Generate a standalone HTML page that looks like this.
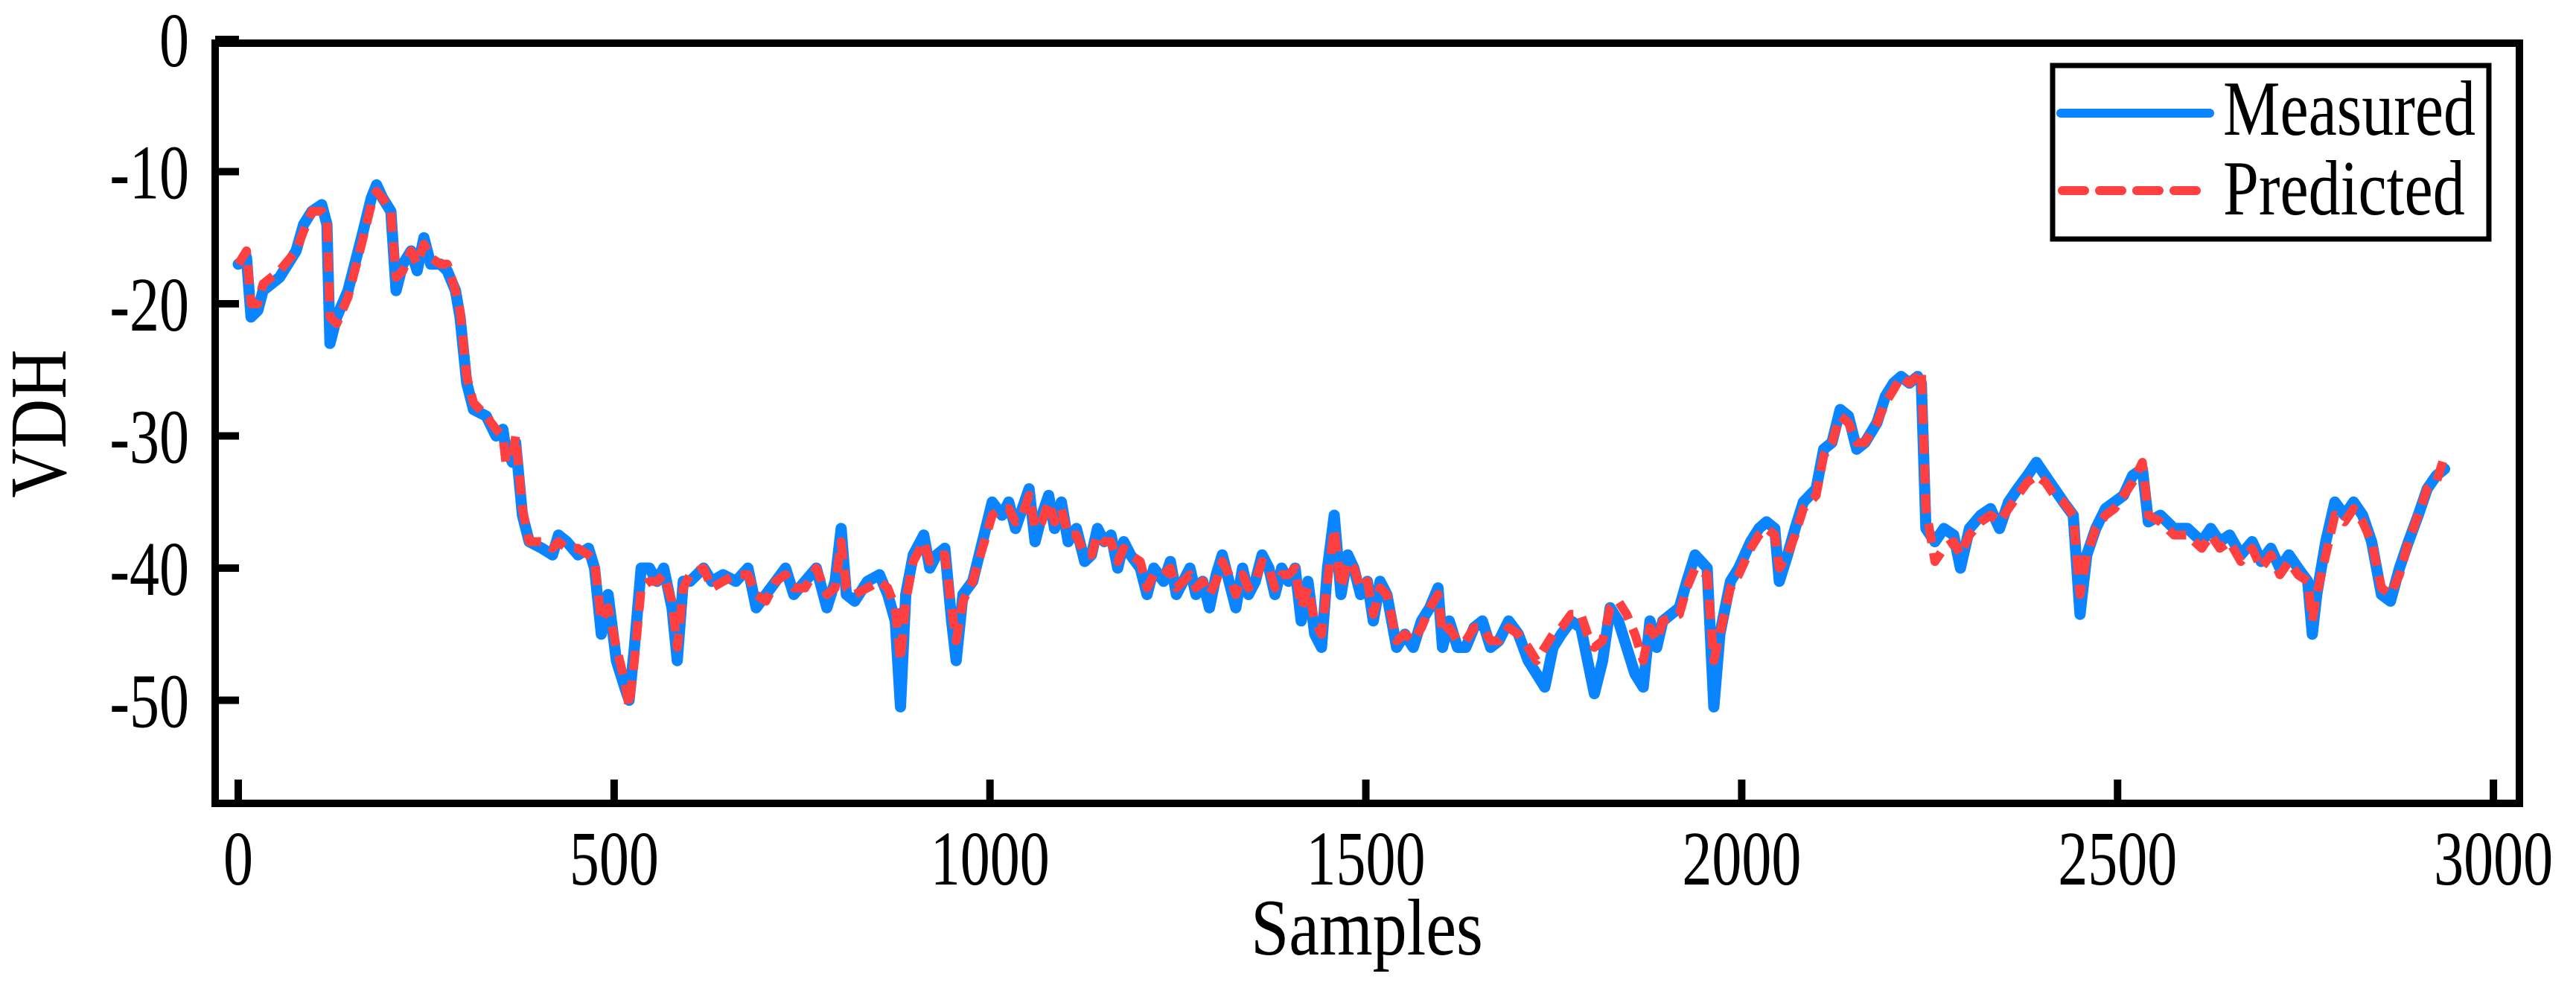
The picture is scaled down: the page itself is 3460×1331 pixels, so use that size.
<!DOCTYPE html>
<html><head><meta charset="utf-8"><style>
html,body{margin:0;padding:0;background:#fff;}
svg{display:block;}
text{font-family:"Liberation Serif",serif;fill:#000;}
</style></head><body>
<svg id="chart" width="3460" height="1331" viewBox="0 0 3460 1331" xmlns="http://www.w3.org/2000/svg">
<rect x="0" y="0" width="3460" height="1331" fill="#fff"/>
<g id="plot"></g>
<g id="axes"></g>
<text font-size="92" text-anchor="middle" transform="translate(1836,1282) scale(1,1.18)">Samples</text>
<text font-size="92" text-anchor="middle" transform="translate(88,569) rotate(-90) scale(1,1.18)">VDH</text>
<g>
<rect x="2757" y="88" width="586" height="233" fill="#fff" stroke="#000" stroke-width="7"/>
<line x1="2768" y1="152" x2="2968" y2="152" stroke="#0a84ff" stroke-width="12" stroke-linecap="round"/>
<text font-size="86" transform="translate(2986,181) scale(1,1.22)">Measured</text>
<line x1="2770" y1="256" x2="2968" y2="256" stroke="#ff4040" stroke-width="12" stroke-dasharray="30 20" stroke-linecap="round"/>
<text font-size="86" transform="translate(2986,288) scale(1,1.22)">Predicted</text>
</g>
</svg>
<script>
const samples=[0,11,17,26,33,55,77,87,98,111,118,122,131,146,164,177,184,192,203,210,219,230,238,247,256,269,278,289,295,304,313,330,343,352,356,365,369,378,387,404,418,426,437,452,466,474,483,492,503,514,520,527,536,547,557,566,577,584,592,601,619,630,645,662,678,689,702,715,728,739,754,769,783,794,802,809,820,837,853,864,874,881,888,898,912,920,929,940,949,955,964,977,990,1003,1016,1025,1034,1043,1052,1060,1069,1078,1086,1095,1104,1115,1126,1135,1143,1152,1161,1170,1178,1187,1200,1209,1218,1231,1240,1248,1257,1266,1274,1283,1292,1301,1309,1318,1327,1336,1344,1353,1362,1371,1379,1388,1397,1406,1414,1423,1432,1441,1449,1458,1467,1476,1484,1493,1502,1510,1519,1528,1541,1552,1563,1574,1585,1596,1602,1611,1622,1633,1644,1655,1666,1677,1690,1703,1716,1727,1738,1749,1760,1773,1786,1795,1804,1815,1825,1836,1847,1858,1869,1878,1887,1895,1917,1927,1938,1954,1963,1971,1985,1996,2012,2023,2033,2044,2050,2061,2071,2082,2099,2109,2120,2131,2142,2153,2164,2180,2191,2202,2212,2223,2234,2239,2245,2257,2269,2282,2291,2303,2318,2331,2343,2355,2367,2380,2392,2404,2416,2428,2441,2450,2459,2471,2484,2496,2508,2520,2533,2541,2557,2575,2593,2612,2624,2636,2649,2664,2679,2691,2704,2716,2728,2740,2753,2759,2765,2777,2789,2802,2814,2826,2838,2851,2863,2875,2887,2900,2912,2924,2935];
const measured=[-17,-16.5,-21,-20.5,-19,-18,-16,-14,-13,-12.5,-14,-23,-21,-19,-15,-12,-11,-12,-13,-19,-17,-16,-17.5,-15,-17,-17,-17.5,-19,-21,-26,-28,-28.5,-30,-29.5,-31,-32,-30.5,-36,-38,-38.5,-39,-37.5,-38,-39,-38.5,-40,-45,-42,-47,-49,-50,-46,-40,-40,-41,-40,-43,-47,-41,-41,-40,-41,-40.5,-41,-40,-43,-42,-41,-40,-42,-41,-40,-43,-41,-37,-42,-42.5,-41,-40.5,-42,-44,-50.5,-42,-39,-37.5,-40,-39,-38.5,-44,-47,-42,-41,-38,-35,-36,-35,-37,-35.5,-34,-38,-36,-34.5,-37,-35,-38,-37,-39.5,-39,-37,-38,-37.5,-40,-38,-39,-40,-42,-40,-41,-39.5,-42,-41,-40,-42,-41,-43,-40.5,-39,-41,-43,-40,-42,-41,-39,-40,-42,-40,-41,-40,-44,-41,-45,-46,-40,-36,-42,-39,-40,-42,-41,-44,-41,-42,-46,-45,-46,-44,-43,-41.5,-46,-44,-46,-46,-44.5,-44,-46,-45.5,-44,-45,-47,-48,-49,-46,-45,-44,-44.5,-47,-49.5,-47,-43,-44,-46,-48,-49,-44,-46,-44,-43,-41,-39,-40,-50.5,-45,-41,-40,-38,-37,-36.5,-37,-41,-39,-37,-35,-34,-31,-30.5,-28,-28.5,-31,-30.5,-29,-27,-26,-25.5,-26,-25.5,-26,-37,-38,-37,-37.5,-40,-37,-36,-35.5,-37,-35,-34,-33,-32,-33,-34,-35,-36,-43.5,-39,-37,-35.5,-35,-34.5,-33,-32.5,-36.5,-36,-37,-37,-38,-37,-38,-37.5,-39,-38,-39.5,-38.5,-40,-39,-40,-41,-45,-42,-38,-35,-36,-35,-36,-38,-42,-42.5,-40,-38,-36,-34,-33,-32.5,-33];
const predicted=[-17,-16,-20,-20,-18.5,-17.5,-16,-14.5,-13,-13,-13.5,-21,-21.5,-19.5,-15.5,-12.5,-11.5,-12,-13,-18,-17.5,-16,-17,-15.5,-16.5,-17,-17,-19,-20.5,-25.5,-27.5,-28.5,-29.5,-30,-32,-31.5,-30,-35.5,-38,-38,-38.5,-38,-38.5,-38.5,-39,-39.5,-44,-43,-46,-48.5,-50.5,-47,-41.5,-41,-41,-40.5,-42.5,-46,-41.5,-40.5,-40,-41.5,-41,-40.5,-40.5,-42,-42.5,-41,-40.5,-41.5,-41.5,-40,-42,-41.5,-38,-41.5,-42,-41.5,-41,-41.5,-43,-47,-42.5,-39.5,-38,-39.5,-39,-39,-43,-45.5,-42.5,-41,-38.5,-36,-35.5,-35.5,-36.5,-36,-34.5,-37,-36.5,-35,-36.5,-35.5,-37.5,-37.5,-39,-39,-37.5,-38,-38,-39.5,-38.5,-39,-39.5,-41.5,-40.5,-40.5,-40,-41.5,-41,-40.5,-41.5,-41,-42,-41,-39.5,-40.5,-42,-40.5,-41.5,-41,-39.5,-40,-41.5,-40.5,-40.5,-40,-43,-41.5,-44,-45,-41,-37,-41.5,-39.5,-40,-41.5,-41,-43.5,-41.5,-42,-45.5,-45,-45.5,-44.5,-43,-42,-45,-44.5,-45.5,-45.5,-44.5,-44.5,-45.5,-45.5,-44.5,-45,-46,-47,-46,-45,-44.5,-43.5,-43.5,-45,-46,-45.5,-43,-42.5,-43.5,-45,-47,-44.5,-45.5,-44,-43.5,-41.5,-40,-40.5,-47,-45,-41.5,-40.5,-38.5,-37.5,-37,-37.5,-40,-39,-37.5,-35.5,-34.5,-31.5,-30.5,-28.5,-29,-30.5,-30.5,-29,-27.5,-26.5,-25.5,-26,-25.5,-25,-35.5,-39.5,-38.5,-38,-39,-37.5,-36.5,-36,-36.5,-35.5,-34.5,-33.5,-33,-33.5,-34.5,-35,-36,-42,-39,-37,-36,-35.5,-34.5,-33.5,-32,-36,-36.5,-37.5,-37.5,-38.5,-37.5,-38.5,-38,-39.5,-38.5,-40,-39,-40.5,-39.5,-40.5,-41,-44,-42,-39,-36,-36.5,-35.5,-36.5,-38,-41.5,-42,-40.5,-38,-36,-34,-33.5,-31.5,-32.5];
const xTicks=[0,500,1000,1500,2000,2500,3000];
const yTicks=[0,-10,-20,-30,-40,-50];

const L=289,R=3384,T=58,B=1079;
function xs(v){return 320+v*1.0097;}
function ys(v){return 53-v*17.75;}
const NS='http://www.w3.org/2000/svg';
const plot=document.getElementById('plot');
const axes=document.getElementById('axes');
function mk(tag,attrs,parent){const e=document.createElementNS(NS,tag);for(const k in attrs)e.setAttribute(k,attrs[k]);parent.appendChild(e);return e;}

function pathFor(vals){return samples.map((s,i)=>(i?'L':'M')+xs(s).toFixed(1)+','+ys(vals[i]).toFixed(1)).join(' ');}
const m=mk('path',{d:pathFor(measured),fill:'none',stroke:'#0a84ff','stroke-width':15,'stroke-linejoin':'round','stroke-linecap':'round'},plot);


const p=mk('path',{d:pathFor(predicted),fill:'none',stroke:'#ff4040','stroke-width':12,'stroke-dasharray':'26 14','stroke-linejoin':'round'},plot);



const fr=mk('rect',{x:L,y:T,width:R-L,height:B-T,fill:'none',stroke:'#000','stroke-width':10},axes);


xTicks.forEach(v=>{
  const t=mk('line',{x1:xs(v),x2:xs(v),y1:B,y2:B-32,stroke:'#000','stroke-width':10},axes);
  
  
  const l=mk('text',{'font-size':80,'text-anchor':'middle',transform:'translate('+xs(v)+',1188) scale(1,1.3)'},axes);
  l.textContent=v;
  
  
});
yTicks.forEach(v=>{
  const t=mk('line',{x1:L,x2:L+32,y1:ys(v),y2:ys(v),stroke:'#000','stroke-width':10},axes);
  
  
  const l=mk('text',{'font-size':80,'text-anchor':'end',transform:'translate(254,'+(ys(v)+36)+') scale(1,1.3)'},axes);
  l.textContent=v;
  
  
});
</script>
</body></html>
